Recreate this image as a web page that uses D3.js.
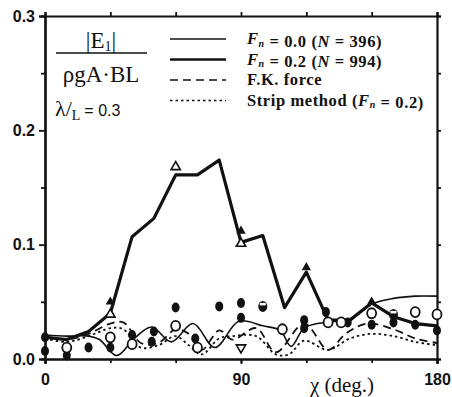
<!DOCTYPE html>
<html>
<head>
<meta charset="utf-8">
<script src="https://cdn.jsdelivr.net/npm/d3@7"></script>
<style>
  body { margin: 0; background: #fff; }
  svg { display: block; }
</style>
</head>
<body>
<div id="chart"></div>
<script>
// tick values
const xTicks = [0, 90, 180];
const xMinorTicks = [0, 30, 60, 90, 120, 150, 180];
const yTicks = [0, 0.1, 0.2, 0.3];
const yMinorTicks = [0.05, 0.15, 0.25];

// Fn = 0.2 (N = 994), thick solid
const fn02Angles = [0, 10, 20, 30, 40, 50, 60, 70, 80, 90, 100, 110, 120, 130, 140, 150, 160, 170, 180];
const fn02Values = [0.019, 0.017, 0.024, 0.040, 0.107, 0.123, 0.161, 0.161, 0.174, 0.102, 0.108, 0.045, 0.076, 0.034, 0.034, 0.049, 0.037, 0.031, 0.029];

// Fn = 0.0 (N = 396), thin solid
const fn00Angles = [0, 10, 20, 25, 33, 41, 49, 58, 68, 78, 89, 100, 108, 113, 119, 128, 140, 150, 160, 170, 180];
const fn00Values = [0.021, 0.020, 0.020, 0.017, 0.003, 0.018, 0.028, 0.015, 0.031, 0.010, 0.033, 0.029, 0.025, 0.011, 0.027, 0.032, 0.035, 0.048, 0.053, 0.055, 0.055];

// F.K. force, dashed
const fkAngles = [0, 10, 20, 30, 36, 44, 52, 60, 66, 72, 80, 86, 97, 106, 119, 130, 138, 148, 160, 170, 180];
const fkValues = [0.020, 0.017, 0.022, 0.031, 0.032, 0.014, 0.014, 0.026, 0.022, 0.008, 0.025, 0.017, 0.027, 0.006, 0.031, 0.008, 0.022, 0.031, 0.026, 0.018, 0.014];

// Strip method (Fn = 0.2), dotted
const stripAngles = [0, 10, 20, 30, 36, 44, 52, 60, 66, 72, 80, 86, 97, 106, 112, 119, 130, 140, 150, 160, 170, 180];
const stripValues = [0.018, 0.015, 0.020, 0.027, 0.026, 0.010, 0.012, 0.020, 0.012, 0.004, 0.018, 0.020, 0.020, 0.004, 0.004, 0.016, 0.008, 0.018, 0.022, 0.020, 0.015, 0.012];

// experiment markers [angle, value]
const filledCircles = [[0, 0.019], [0, 0.007], [10, 0.003], [20, 0.010], [30, 0.010], [40, 0.021], [49, 0.015], [50, 0.024],
  [60, 0.045], [69, 0.018], [80, 0.046], [90, 0.049], [90, 0.036], [119, 0.034], [119, 0.027], [129, 0.041],
  [139, 0.032], [150, 0.030], [160, 0.032], [170, 0.030], [180, 0.025]];
const openCircles = [[10, 0.010], [30, 0.019], [40, 0.013], [60, 0.029], [70, 0.010], [109, 0.026], [130, 0.032],
  [136, 0.032], [150, 0.040], [170, 0.041], [180, 0.039]];
const halfCircles = [[100, 0.046], [160, 0.039]];
const filledTriangles = [[30, 0.050], [90, 0.112], [120, 0.080], [150, 0.050]];
const openTriangles = [[30, 0.039], [60, 0.168], [90, 0.101]];
const downTriangles = [[90, 0.010]];

const legendLabels = ['F|n| = 0.0 (|N| = 396)', 'F|n| = 0.2 (|N| = 994)', 'F.K. force', 'Strip method (F|n| = 0.2)'];

const width = 452, height = 397;
const margin = { top: 16, right: 15, bottom: 38, left: 45 };

const x = d3.scaleLinear().domain([0, 180]).range([margin.left, width - margin.right]);
const y = d3.scaleLinear().domain([0, 0.3]).range([height - margin.bottom, margin.top]);

const svg = d3.select('#chart').append('svg')
  .attr('width', width)
  .attr('height', height);

const ink = '#111';
const serif = '"Liberation Serif", "DejaVu Serif", serif';

// axes
svg.append('g')
  .attr('transform', `translate(${margin.left},0)`)
  .call(d3.axisLeft(y).tickValues(yTicks).tickFormat(d3.format('.1f')).tickSize(6).tickPadding(4));
svg.append('g')
  .attr('transform', `translate(${margin.left},0)`)
  .call(d3.axisLeft(y).tickValues(yMinorTicks).tickFormat('').tickSize(4));
svg.append('g')
  .attr('transform', `translate(${width - margin.right},0)`)
  .call(d3.axisRight(y).tickValues(yTicks.concat(yMinorTicks)).tickFormat('').tickSize(4));

svg.append('g')
  .attr('transform', `translate(0,${y(0)})`)
  .call(d3.axisBottom(x).tickValues(xTicks).tickFormat(d3.format('d')).tickSize(5).tickPadding(10));
svg.append('g')
  .attr('transform', `translate(0,${y(0)})`)
  .call(d3.axisBottom(x).tickValues(xMinorTicks).tickFormat('').tickSize(4));
svg.append('g')
  .attr('transform', `translate(0,${y(0.3)})`)
  .call(d3.axisTop(x).tickValues(xMinorTicks).tickFormat('').tickSize(4));

svg.selectAll('.domain').attr('stroke', ink).attr('stroke-width', 2.2);
svg.selectAll('.tick line').attr('stroke', ink).attr('stroke-width', 1.8);
svg.selectAll('.tick text')
  .attr('fill', ink)
  .style('font-family', '"Liberation Sans", Arial, sans-serif')
  .style('font-weight', 'bold')
  .style('font-size', '16px');

// x axis title
svg.append('text')
  .attr('x', 342)
  .attr('y', 392)
  .attr('text-anchor', 'middle')
  .attr('fill', ink)
  .style('font-family', serif)
  .style('font-size', '21px')
  .text('χ (deg.)');

// line generators
const smooth = d3.line()
  .x(d => x(d[0]))
  .y(d => y(d[1]))
  .curve(d3.curveCatmullRom.alpha(0.5));
const straight = d3.line()
  .x(d => x(d[0]))
  .y(d => y(d[1]));

const zip = (a, v) => a.map((d, i) => [d, v[i]]);

const styles = [
  { w: 1.6, dash: null },
  { w: 3.2, dash: null },
  { w: 1.8, dash: '8,5' },
  { w: 1.8, dash: '2.5,3' }
];

svg.append('path')
  .datum(zip(stripAngles, stripValues))
  .attr('fill', 'none').attr('stroke', ink)
  .attr('stroke-width', styles[3].w).attr('stroke-dasharray', styles[3].dash)
  .attr('d', smooth);

svg.append('path')
  .datum(zip(fkAngles, fkValues))
  .attr('fill', 'none').attr('stroke', ink)
  .attr('stroke-width', styles[2].w).attr('stroke-dasharray', styles[2].dash)
  .attr('d', smooth);

svg.append('path')
  .datum(zip(fn00Angles, fn00Values))
  .attr('fill', 'none').attr('stroke', ink)
  .attr('stroke-width', styles[0].w)
  .attr('d', smooth);

svg.append('path')
  .datum(zip(fn02Angles, fn02Values))
  .attr('fill', 'none').attr('stroke', ink)
  .attr('stroke-width', styles[1].w)
  .attr('stroke-linejoin', 'round')
  .attr('d', straight);

// markers
svg.selectAll('.fc').data(filledCircles).enter().append('ellipse')
  .attr('cx', d => x(d[0])).attr('cy', d => y(d[1]))
  .attr('rx', 4).attr('ry', 5)
  .attr('fill', ink);

svg.selectAll('.oc').data(openCircles).enter().append('ellipse')
  .attr('cx', d => x(d[0])).attr('cy', d => y(d[1]))
  .attr('rx', 4.5).attr('ry', 5)
  .attr('fill', '#fff').attr('stroke', ink).attr('stroke-width', 1.8);

const half = svg.selectAll('.hc').data(halfCircles).enter().append('g')
  .attr('transform', d => `translate(${x(d[0])},${y(d[1])})`);
half.append('ellipse').attr('rx', 4.5).attr('ry', 5.5).attr('fill', ink);
half.append('rect').attr('x', -3).attr('y', -3.5).attr('width', 6).attr('height', 2.5).attr('fill', '#fff');

const tri = d3.symbol().type(d3.symbolTriangle).size(38);
svg.selectAll('.ft').data(filledTriangles).enter().append('path')
  .attr('transform', d => `translate(${x(d[0])},${y(d[1])})`)
  .attr('d', tri).attr('fill', ink);
svg.selectAll('.ot').data(openTriangles).enter().append('path')
  .attr('transform', d => `translate(${x(d[0])},${y(d[1])})`)
  .attr('d', tri).attr('fill', '#fff').attr('stroke', ink).attr('stroke-width', 1.6);
svg.selectAll('.dt').data(downTriangles).enter().append('path')
  .attr('transform', d => `translate(${x(d[0])},${y(d[1])}) rotate(180)`)
  .attr('d', tri).attr('fill', '#fff').attr('stroke', ink).attr('stroke-width', 1.6);

// legend
const legend = svg.append('g').attr('transform', 'translate(170,39)');
legendLabels.forEach((label, i) => {
  const row = legend.append('g').attr('transform', `translate(0,${i * 20.5})`);
  row.append('line')
    .attr('x1', 0).attr('x2', 56).attr('y1', 0).attr('y2', 0)
    .attr('stroke', ink)
    .attr('stroke-width', i === 1 ? 2.6 : 1.5)
    .attr('stroke-dasharray', styles[i].dash);
  const t = row.append('text')
    .attr('x', 77).attr('y', 5)
    .attr('fill', ink)
    .style('font-family', serif)
    .style('font-weight', 'bold')
    .style('font-size', '16.5px')
    .style('letter-spacing', '0.6px');
  // "|n|" marks a subscript, "|N|" an italic letter
  label.split(/(F\|n\||\|N\|)/).filter(s => s).forEach(part => {
    if (part === 'F|n|') {
      t.append('tspan').style('font-style', 'italic').text('F');
      t.append('tspan').attr('dy', 2.5).style('font-size', '10px').style('font-style', 'italic').text('n');
      t.append('tspan').attr('dy', -2.5).text('');
    } else if (part === '|N|') {
      t.append('tspan').style('font-style', 'italic').text('N');
    } else {
      t.append('tspan').text(part);
    }
  });
});

// ratio label
const num = svg.append('text')
  .attr('x', 101).attr('y', 48).attr('text-anchor', 'middle')
  .attr('fill', ink)
  .style('font-family', serif).style('font-size', '23px');
num.append('tspan').text('|E');
num.append('tspan').attr('dy', 3).style('font-size', '14px').text('1');
num.append('tspan').attr('dy', -3).text('|');

svg.append('line')
  .attr('x1', 56).attr('x2', 147).attr('y1', 53).attr('y2', 53)
  .attr('stroke', ink).attr('stroke-width', 1.6);

svg.append('text')
  .attr('x', 101).attr('y', 82).attr('text-anchor', 'middle')
  .attr('fill', ink)
  .style('font-family', serif).style('font-size', '23px')
  .text('ρgA·BL');

const lam = svg.append('text')
  .attr('x', 55).attr('y', 116)
  .attr('fill', ink)
  .style('font-family', serif).style('font-size', '22px');
lam.append('tspan').text('λ/');
lam.append('tspan').attr('dy', 4).style('font-size', '14px').text('L');
lam.append('tspan').attr('dy', -4).attr('dx', 4)
  .style('font-family', '"Liberation Sans", Arial, sans-serif')
  .style('font-size', '16px').text('= 0.3');
</script>
</body>
</html>
